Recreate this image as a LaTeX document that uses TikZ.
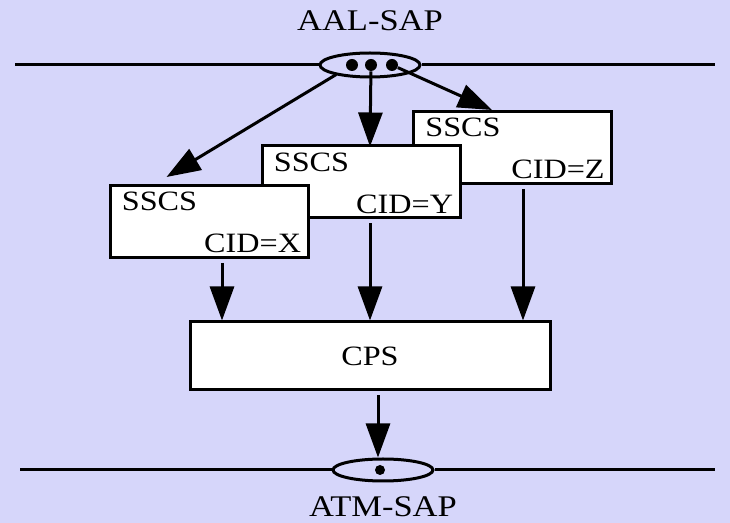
\documentclass[tikz,border=0pt]{standalone}
\usepackage{fontspec}
\setmainfont{Liberation Serif}
\usepackage{graphicx}
\usetikzlibrary{shapes.geometric,arrows.meta,positioning,calc}

\definecolor{bglav}{RGB}{214,214,250}
\newcommand{\wide}[1]{\scalebox{1.15}[1]{#1}}

\begin{document}
\begin{tikzpicture}[x=0.5pt, y=-0.5pt,
    sap/.style={ellipse, draw, fill=bglav, line width=1.5pt, minimum width=50pt, minimum height=12pt, inner sep=0pt},
    sscs/.style={rectangle, draw, fill=white, line width=1.5pt, minimum width=99pt, minimum height=36pt, inner sep=0pt},
    cpsbox/.style={rectangle, draw, fill=white, line width=1.5pt, minimum width=180pt, minimum height=34pt, inner sep=0pt},
    dot/.style={circle, fill, inner sep=0pt, minimum size=6pt},
    txt/.style={font=\fontsize{14}{16}\selectfont, inner sep=0pt},
    saplab/.style={font=\fontsize{15}{17}\selectfont, inner sep=0pt},
    line/.style={draw, -{Triangle[length=17pt,width=12pt]}, line width=1.5pt}]

    \fill[bglav] (0,0) rectangle (730,523);
    \useasboundingbox (0,0) rectangle (730,523);

    % service access points
    \coordinate (topl) at (15,65);
    \coordinate (topr) at (715,65);
    \coordinate (botl) at (20,470);
    \coordinate (botr) at (715,470);
    \node [sap] (aal) at (370,65) {};
    \node [sap, minimum height=11pt] (atm) at (383,470) {};
    \draw [line width=1.5pt] (topl) -- (aal.west) (aal.east) -- (topr);
    \draw [line width=1.5pt] (botl) -- (atm.west) (atm.east) -- (botr);
    \node [dot] (d1) at (352,65) {};
    \node [dot] (d2) at (371,65) {};
    \node [dot] (d3) at (392,65) {};
    \node [dot, minimum size=5pt] (d4) at (380,470) {};
    \node [saplab, above=10pt of aal] (aallab) {\wide{AAL-SAP}};
    \node [saplab, below=7pt of atm] (atmlab) {\wide{ATM-SAP}};

    % sscs boxes, back to front
    \node [sscs] (z) at (512.5,147.5) {};
    \node [txt, anchor=base west] (zname) at ($(z.north west)+(13,27)$) {\wide{SSCS}};
    \node [txt, anchor=base east] (zcid) at ($(z.south east)+(-8,-6)$) {\wide{CID=Z}};
    \node [sscs] (y) at (361,182) {};
    \node [txt, anchor=base west] (yname) at ($(y.north west)+(13,27)$) {\wide{SSCS}};
    \node [txt, anchor=base east] (ycid) at ($(y.south east)+(-8,-6)$) {\wide{CID=Y}};
    \node [sscs] (x) at (209,221.5) {};
    \node [txt, anchor=base west] (xname) at ($(x.north west)+(13,27)$) {\wide{SSCS}};
    \node [txt, anchor=base east] (xcid) at ($(x.south east)+(-8,-6)$) {\wide{CID=X}};

    \node [cpsbox] (cps) at (370,356) {\fontsize{14}{16}\selectfont\wide{CPS}};

    % arrows
    \coordinate (xin) at ($(x.north west)+(58,-7)$);
    \coordinate (yin) at ($(y.north)+(9,2)$);
    \coordinate (zin) at ($(z.north west)+(80,0)$);
    \path [line, shorten <=6pt] (d1) -- (xin);
    \path [line] (d2) -- (yin);
    \path [line] (d3) -- (zin);

    \coordinate (xout) at ($(x.south)+(13,4)$);
    \coordinate (yout) at ($(y.south)+(9,4)$);
    \coordinate (zout) at ($(z.south)+(10.5,4)$);
    \coordinate (cpsout) at ($(cps.south)+(8,4)$);
    \path [line] (xout) -- (xout |- cps.north);
    \path [line] (yout) -- (yout |- cps.north);
    \path [line] (zout) -- (zout |- cps.north);
    \path [line] (cpsout) -- (cpsout |- atm.north);
\end{tikzpicture}
\end{document}
